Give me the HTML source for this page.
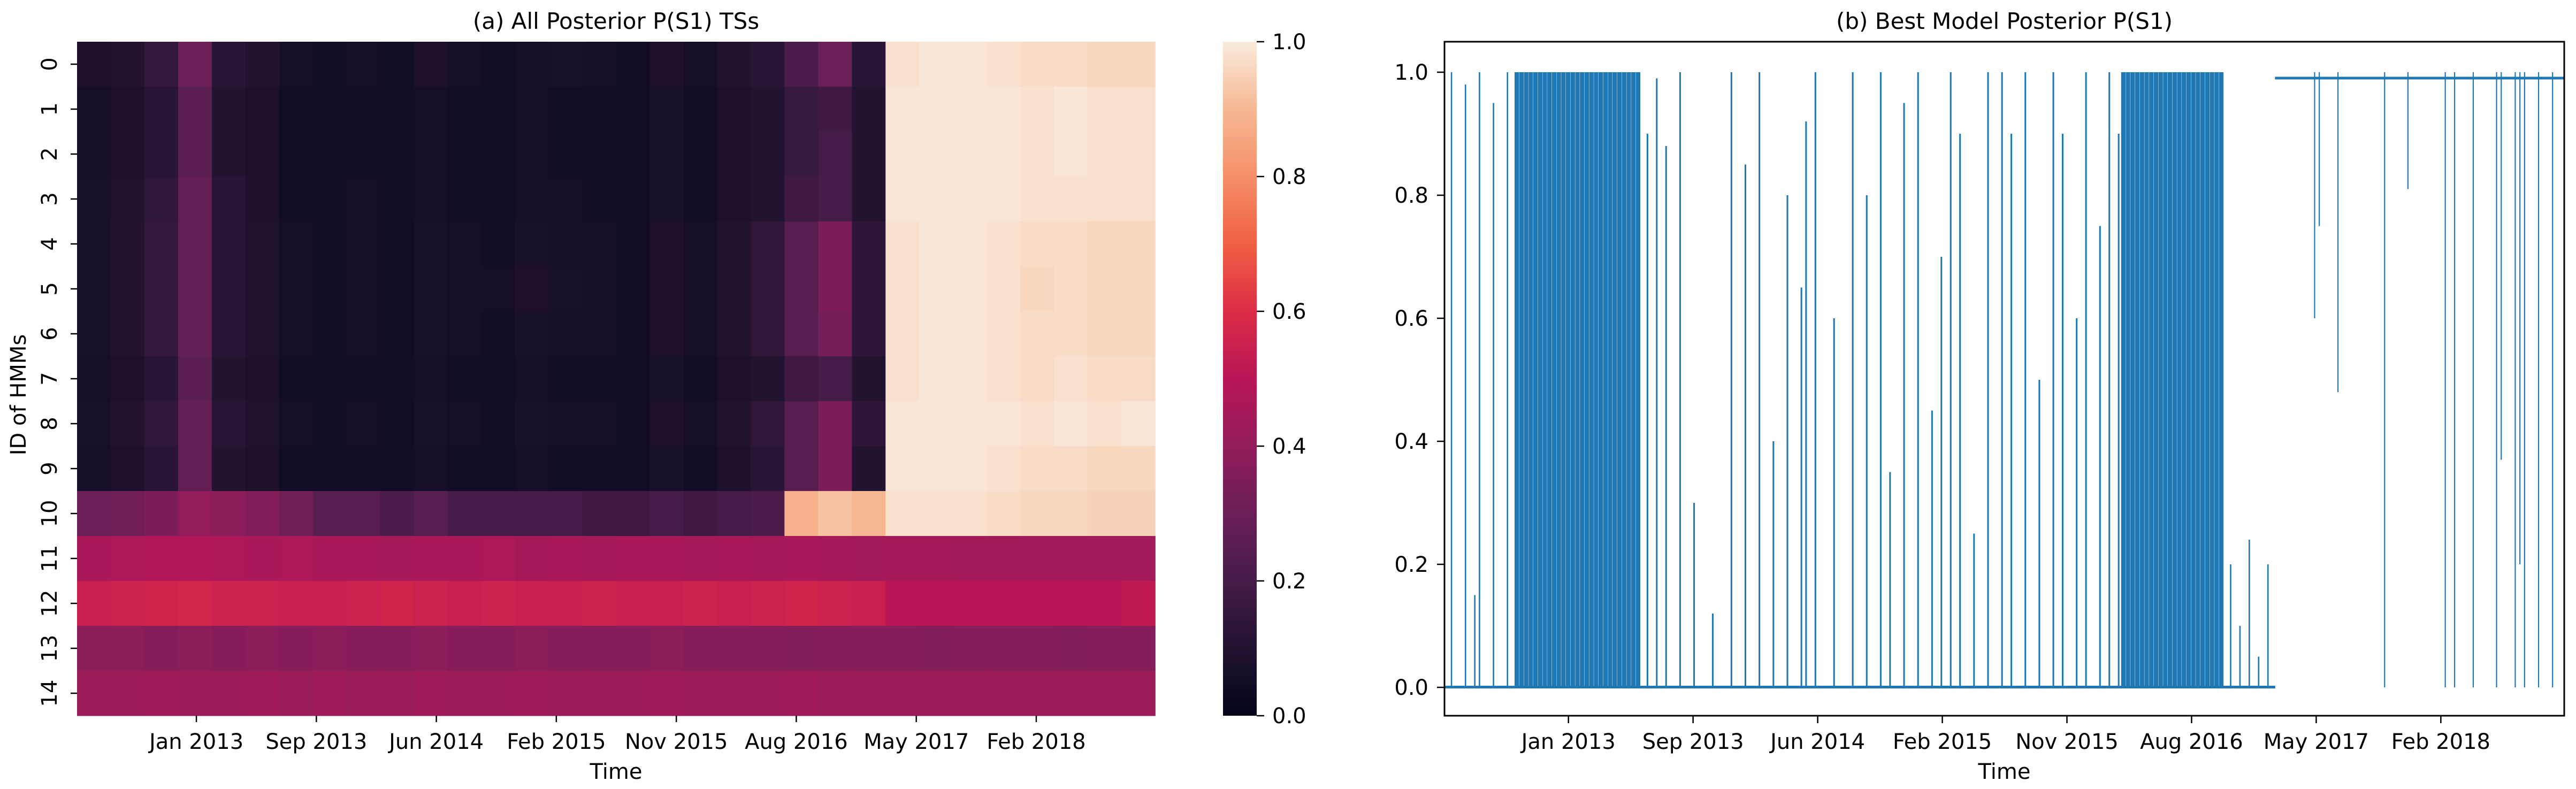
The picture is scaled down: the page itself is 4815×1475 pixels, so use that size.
<!DOCTYPE html>
<html><head><meta charset="utf-8"><style>
html,body{margin:0;padding:0;background:#fff}
svg{display:block}
text{font-family:"DejaVu Sans","Liberation Sans",sans-serif;fill:#000}
</style></head><body>
<svg id="fig" xmlns="http://www.w3.org/2000/svg" width="4815" height="1475" viewBox="0 0 4815 1475">
<defs>
<linearGradient id="rocket" x1="0" y1="1" x2="0" y2="0">
<stop offset="0" stop-color="#03051A"/><stop offset="0.1" stop-color="#221331"/><stop offset="0.2" stop-color="#451C47"/><stop offset="0.3" stop-color="#6A1F56"/><stop offset="0.4" stop-color="#921C5B"/><stop offset="0.5" stop-color="#B91657"/><stop offset="0.6" stop-color="#DD2C45"/><stop offset="0.7" stop-color="#F06043"/><stop offset="0.8" stop-color="#F58F69"/><stop offset="0.9" stop-color="#F6B893"/><stop offset="1" stop-color="#FAEBDD"/>
</linearGradient>
</defs>
<g id="left"></g>
<g id="right"></g>
</svg>
<script>
const tickLabels = ["Jan 2013","Sep 2013","Jun 2014","Feb 2015","Nov 2015","Aug 2016","May 2017","Feb 2018"];
const tickFractions = [0.1107,0.2220,0.3333,0.4446,0.5559,0.6672,0.7785,0.8898];
const rowIds = [0,1,2,3,4,5,6,7,8,9,10,11,12,13,14];
const cbarTicks = [0.0,0.2,0.4,0.6,0.8,1.0];
const lineYTicks = [0.0,0.2,0.4,0.6,0.8,1.0];
const heatRow0 = [0.08,0.1,0.15,0.3,0.12,0.1,0.06,0.05,0.06,0.05,0.08,0.06,0.05,0.06,0.07,0.06,0.05,0.08,0.06,0.1,0.12,0.22,0.3,0.12,0.98,0.99,0.99,0.98,0.97,0.97,0.96,0.96];
const heatRow1 = [0.06,0.08,0.12,0.26,0.1,0.08,0.05,0.05,0.05,0.05,0.06,0.05,0.05,0.06,0.05,0.05,0.05,0.07,0.05,0.08,0.1,0.16,0.18,0.1,0.99,0.99,0.99,0.99,0.98,0.99,0.98,0.98];
const heatRow2 = [0.06,0.08,0.12,0.26,0.1,0.08,0.05,0.05,0.05,0.05,0.06,0.05,0.05,0.06,0.05,0.05,0.05,0.07,0.05,0.08,0.1,0.16,0.2,0.1,0.99,0.99,0.99,0.99,0.98,0.99,0.98,0.98];
const heatRow3 = [0.07,0.09,0.14,0.28,0.12,0.08,0.05,0.05,0.06,0.05,0.06,0.05,0.05,0.06,0.06,0.05,0.05,0.07,0.05,0.08,0.1,0.18,0.2,0.1,0.99,0.99,0.99,0.99,0.98,0.98,0.98,0.98];
const heatRow4 = [0.07,0.1,0.15,0.28,0.12,0.09,0.06,0.05,0.06,0.05,0.07,0.06,0.05,0.07,0.06,0.06,0.05,0.08,0.06,0.1,0.14,0.25,0.35,0.13,0.98,0.99,0.99,0.98,0.97,0.97,0.96,0.96];
const heatRow5 = [0.07,0.1,0.15,0.28,0.12,0.09,0.06,0.05,0.06,0.05,0.07,0.06,0.06,0.08,0.07,0.06,0.05,0.08,0.06,0.1,0.14,0.25,0.35,0.13,0.98,0.99,0.99,0.98,0.96,0.97,0.96,0.96];
const heatRow6 = [0.07,0.1,0.15,0.28,0.12,0.09,0.06,0.05,0.06,0.05,0.07,0.06,0.05,0.07,0.06,0.06,0.05,0.08,0.06,0.1,0.14,0.25,0.33,0.13,0.98,0.99,0.99,0.98,0.97,0.97,0.96,0.96];
const heatRow7 = [0.06,0.08,0.12,0.26,0.1,0.08,0.05,0.05,0.05,0.05,0.06,0.05,0.05,0.06,0.05,0.05,0.05,0.07,0.05,0.08,0.1,0.18,0.2,0.1,0.98,0.99,0.99,0.98,0.97,0.98,0.97,0.97];
const heatRow8 = [0.07,0.1,0.14,0.28,0.12,0.09,0.06,0.05,0.06,0.05,0.07,0.06,0.05,0.07,0.06,0.06,0.05,0.08,0.06,0.1,0.14,0.25,0.35,0.13,0.99,0.99,0.99,0.99,0.98,0.99,0.98,0.99];
const heatRow9 = [0.06,0.08,0.12,0.28,0.1,0.08,0.05,0.05,0.05,0.05,0.06,0.05,0.05,0.06,0.05,0.05,0.05,0.07,0.05,0.08,0.12,0.25,0.35,0.1,0.99,0.99,0.99,0.98,0.97,0.97,0.96,0.96];
const heatRow10 = [0.3,0.32,0.35,0.4,0.38,0.36,0.32,0.25,0.25,0.22,0.25,0.2,0.2,0.2,0.2,0.18,0.18,0.2,0.18,0.2,0.22,0.88,0.92,0.9,0.98,0.98,0.98,0.97,0.96,0.96,0.95,0.95];
const heatRow11 = [0.46,0.47,0.48,0.48,0.47,0.46,0.47,0.46,0.46,0.45,0.46,0.46,0.47,0.45,0.46,0.45,0.46,0.46,0.45,0.46,0.45,0.46,0.45,0.44,0.45,0.45,0.44,0.44,0.44,0.44,0.44,0.44];
const heatRow12 = [0.54,0.55,0.56,0.57,0.55,0.55,0.54,0.54,0.55,0.56,0.55,0.54,0.55,0.54,0.54,0.55,0.54,0.54,0.55,0.54,0.55,0.56,0.55,0.54,0.5,0.5,0.5,0.5,0.5,0.5,0.5,0.52];
const heatRow13 = [0.38,0.38,0.37,0.38,0.37,0.38,0.37,0.38,0.37,0.37,0.38,0.37,0.37,0.38,0.37,0.37,0.37,0.38,0.37,0.37,0.37,0.36,0.37,0.37,0.37,0.36,0.37,0.37,0.37,0.36,0.37,0.37];
const heatRow14 = [0.42,0.42,0.43,0.42,0.42,0.43,0.42,0.43,0.42,0.42,0.43,0.42,0.42,0.43,0.42,0.42,0.42,0.43,0.42,0.42,0.42,0.43,0.42,0.42,0.42,0.42,0.42,0.42,0.42,0.42,0.42,0.42];
const heatRows = [heatRow0,heatRow1,heatRow2,heatRow3,heatRow4,heatRow5,heatRow6,heatRow7,heatRow8,heatRow9,heatRow10,heatRow11,heatRow12,heatRow13,heatRow14];

// Best model posterior, summarised per time bin (240 bins): peak, trough, baseline level, and spike density
const binHigh = [
0.02,1,0.02,0.02,0.98,0.02,0.15,1,0.02,0.02,0.95,0.02,0.02,1,0.02,
1,1,1,1,1,1,1,1,1,1,1,1,1,1,1,1,1,1,1,1,1,1,1,1,1,1,1,
0.02,0.9,0.02,0.99,0.02,0.88,0.02,0.02,1,0.02,0.02,0.3,0.02,0.02,0.02,0.12,0.02,0.02,0.02,1,0.02,0.02,0.85,0.02,0.02,1,0.02,0.02,0.4,0.02,0.02,0.8,0.02,0.02,0.65,0.92,0.02,1,0.02,0.02,0.02,0.6,0.02,0.02,0.02,1,0.02,0.02,0.8,0.02,0.02,1,0.02,0.35,0.02,0.02,0.95,0.02,0.02,1,0.02,0.02,0.45,0.02,0.7,0.02,1,0.02,0.9,0.02,0.02,0.25,0.02,0.02,1,0.02,0.02,1,0.02,0.9,0.02,0.02,1,0.02,0.02,0.5,0.02,0.02,1,0.02,0.9,0.02,0.02,0.6,0.02,1,0.02,0.02,0.75,0.02,1,0.02,0.9,
1,1,1,1,1,1,1,1,1,1,1,1,1,1,1,1,1,1,1,1,1,1,
0.02,0.2,0.02,0.1,0.02,0.24,0.02,0.05,0.02,0.2,0.02,
1,1,
1,1,1,1,1,1,1,1,1,1,1,1,1,1,1,1,1,1,1,1,1,1,1,1,1,1,1,1,1,1,1,1,1,1,1,1,1,1,1,1,1,1,1,1,1,1,1,1,1,1,1,1,1,1,1,1,1,1,1,1
];
const binLow = [
0,0,0,0,0,0,0,0,0,0,0,0,0,0,0,0,0,0,0,0,0,0,0,0,0,0,0,0,0,0,0,0,0,0,0,0,0,0,0,0,
0,0,0,0,0,0,0,0,0,0,0,0,0,0,0,0,0,0,0,0,0,0,0,0,0,0,0,0,0,0,0,0,0,0,0,0,0,0,0,0,
0,0,0,0,0,0,0,0,0,0,0,0,0,0,0,0,0,0,0,0,0,0,0,0,0,0,0,0,0,0,0,0,0,0,0,0,0,0,0,0,
0,0,0,0,0,0,0,0,0,0,0,0,0,0,0,0,0,0,0,0,0,0,0,0,0,0,0,0,0,0,0,0,0,0,0,0,0,0,0,0,
0,0,0,0,0,0,0,0,0,0,0,0,0,0,0,0,0,0,0.98,
0.98,0.98,0.98,0.98,0.98,0.98,0.98,0.6,0.75,0.98,0.98,0.98,0.48,0.98,0.98,0.98,0.98,0.98,0.98,0.98,0.98,0.98,0,0.98,0.98,0.98,0.98,0.81,0.98,0.98,0.98,0.98,0.98,0.98,0.98,0,0.98,0,0.98,0.98,0.98,0,0.98,0.98,0.98,0.98,0,0.37,0.98,0.98,0,0.2,0,0.98,0.98,0,0.98,0.98,0,0.98
];
const binBase = [
0,0,0,0,0,0,0,0,0,0,0,0,0,0,0,0,0,0,0,0,0,0,0,0,0,0,0,0,0,0,0,0,0,0,0,0,0,0,0,0,
0,0,0,0,0,0,0,0,0,0,0,0,0,0,0,0,0,0,0,0,0,0,0,0,0,0,0,0,0,0,0,0,0,0,0,0,0,0,0,0,
0,0,0,0,0,0,0,0,0,0,0,0,0,0,0,0,0,0,0,0,0,0,0,0,0,0,0,0,0,0,0,0,0,0,0,0,0,0,0,0,
0,0,0,0,0,0,0,0,0,0,0,0,0,0,0,0,0,0,0,0,0,0,0,0,0,0,0,0,0,0,0,0,0,0,0,0,0,0,0,0,
0,0,0,0,0,0,0,0,0,0,0,0,0,0,0,0,0,0,0.99,
0.99,0.99,0.99,0.99,0.99,0.99,0.99,0.99,0.99,0.99,0.99,0.99,0.99,0.99,0.99,0.99,0.99,0.99,0.99,0.99,0.99,0.99,0.99,0.99,0.99,0.99,0.99,0.99,0.99,0.99,0.99,0.99,0.99,0.99,0.99,0.99,0.99,0.99,0.99,0.99,0.99,0.99,0.99,0.99,0.99,0.99,0.99,0.99,0.99,0.99,0.99,0.99,0.99,0.99,0.99,0.99,0.99,0.99,0.99,0.99,0.99
];
const binDensity = [
0.3,0.3,0.3,0.3,0.3,0.3,0.3,0.3,0.3,0.3,0.3,0.3,0.3,0.3,0.3,
0.95,0.95,0.95,0.95,0.95,0.95,0.95,0.95,0.95,0.95,0.95,0.95,0.95,0.95,0.95,0.95,0.95,0.95,0.95,0.95,0.95,0.95,0.95,0.95,0.95,0.95,0.95,
0.35,0.35,0.35,0.35,0.35,0.35,0.35,0.35,0.35,0.35,0.35,0.35,0.35,0.35,0.35,0.35,0.35,0.35,0.35,0.35,0.35,0.35,0.35,0.35,0.35,0.35,0.35,0.35,0.35,0.35,0.35,0.35,0.35,0.35,0.35,0.35,0.35,0.35,0.35,0.35,0.35,0.35,0.35,0.35,0.35,0.35,0.35,0.35,0.35,0.35,0.35,0.35,0.35,0.35,0.35,0.35,0.35,0.35,0.35,0.35,0.35,0.35,0.35,0.35,0.35,0.35,0.35,0.35,0.35,0.35,0.35,0.35,0.35,0.35,0.35,0.35,0.35,0.35,0.35,0.35,0.35,0.35,0.35,0.35,0.35,0.35,0.35,0.35,0.35,0.35,0.35,0.35,0.35,0.35,0.35,0.35,0.35,0.35,0.35,0.35,0.35,0.35,0.35,
0.95,0.95,0.95,0.95,0.95,0.95,0.95,0.95,0.95,0.95,0.95,0.95,0.95,0.95,0.95,0.95,0.95,0.95,0.95,0.95,0.95,0.95,
0.3,0.3,0.3,0.3,0.3,0.3,0.3,0.3,0.3,0.3,0.3,
0.5,0.5,
0.25,0.25,0.25,0.25,0.25,0.25,0.25,0.25,0.25,0.25,0.25,0.25,0.25,0.25,0.25,0.25,0.25,0.25,0.25,0.25,0.25,0.25,0.25,0.25,0.25,0.25,0.25,0.25,0.25,0.25,0.25,0.25,0.25,0.25,0.25,0.25,0.25,0.25,0.25,0.25,0.25,0.25,0.25,0.25,0.25,0.25,0.25,0.25,0.25,0.25,0.25,0.25,0.25,0.25,0.25,0.25,0.25,0.25,0.25,0.25
];

const NS="http://www.w3.org/2000/svg";
function mk(tag, attrs, parent){const e=document.createElementNS(NS,tag);for(const k in attrs)e.setAttribute(k,attrs[k]);parent.appendChild(e);return e;}
const rk=[[3,5,26],[34,19,49],[69,28,71],[106,31,86],[146,28,91],[185,22,87],[221,44,69],[240,96,67],[245,143,105],[246,184,147],[250,235,221]];
function rocket(v){v=Math.max(0,Math.min(1,v));const p=v*10,i=Math.min(9,Math.floor(p)),t=p-i;const a=rk[i],b=rk[i+1];return `rgb(${Math.round(a[0]+(b[0]-a[0])*t)},${Math.round(a[1]+(b[1]-a[1])*t)},${Math.round(a[2]+(b[2]-a[2])*t)})`;}

// ---------- Left heatmap ----------
const L=document.getElementById('left');
const hx0=144,hx1=2159,hy0=78,hy1=1338;
const nRows=heatRows.length, rowH=(hy1-hy0)/nRows;
const hxScale=f=>hx0+f*(hx1-hx0);
const hyScale=r=>hy0+r*rowH;
heatRows.forEach((row,r)=>{
  const bw=(hx1-hx0)/row.length;
  row.forEach((v,c)=>{
    const e=mk('rect',{x:hx0+c*bw,y:hyScale(r),width:bw+0.8,height:rowH+0.5,fill:rocket(v)},L);
    
    
  });
});
rowIds.forEach((id,r)=>{
  const y=hyScale(r)+rowH/2;
  const t=mk('line',{x1:hx0-12,x2:hx0,y1:y,y2:y,stroke:'#000','stroke-width':2.5},L);
  
  
  const lb=mk('text',{x:0,y:0,'font-size':40,'text-anchor':'middle',transform:`translate(106,${y}) rotate(-90)`},L);
  lb.textContent=id;
  
  
});
tickLabels.forEach((s,k)=>{
  const x=hxScale(tickFractions[k]);
  const t=mk('line',{x1:x,x2:x,y1:hy1,y2:hy1+12,stroke:'#000','stroke-width':2.5},L);
  
  
  const lb=mk('text',{x:x,y:1400,'font-size':40,'text-anchor':'middle'},L);
  lb.textContent=s;
  
  
});
{
const t=mk('text',{x:(hx0+hx1)/2,y:54,'font-size':42,'text-anchor':'middle'},L);t.textContent='(a) All Posterior P(S1) TSs';


const xl=mk('text',{x:(hx0+hx1)/2,y:1456,'font-size':40,'text-anchor':'middle'},L);xl.textContent='Time';


const yl=mk('text',{x:0,y:0,'font-size':40,'text-anchor':'middle',transform:'translate(48,738) rotate(-90)'},L);yl.textContent='ID of HMMs';


const cx0=2286,cx1=2349;
const cb=mk('rect',{x:cx0,y:hy0,width:cx1-cx0,height:hy1-hy0,fill:'url(#rocket)'},L);


const cyScale=v=>hy1-v*(hy1-hy0);
cbarTicks.forEach(v=>{
  const y=cyScale(v);
  const tk=mk('line',{x1:cx1,x2:cx1+14,y1:y,y2:y,stroke:'#000','stroke-width':2.5},L);
  
  
  const lb=mk('text',{x:2378,y:y+14,'font-size':40},L);lb.textContent=v.toFixed(1);
  
  
});
}

// ---------- Right line chart ----------
const R=document.getElementById('right');
const rx0=2700,rx1=4793,ry0=78,ry1=1338;
const yVal0=1285,yVal1=135;
const rxScale=f=>rx0+f*(rx1-rx0);
const ryScale=v=>yVal0+v*(yVal1-yVal0);
const n=binHigh.length;
const bw=(rx1-rx0)/n;
binHigh.forEach((hi,i)=>{
  const x=rxScale(i/n);
  const yb=ryScale(binBase[i]);
  const tr=mk('rect',{x:x,y:yb-3,width:bw+0.5,height:5,fill:'#1f77b4'},R);
  
  
  if (hi - binLow[i] > 0.03) {
    const w=Math.max(2,bw*binDensity[i]);
    const yTop=ryScale(hi), yBot=ryScale(binLow[i]);
    const sp=mk('rect',{x:x+(bw-w)/2,y:yTop,width:w,height:yBot-yTop,fill:'#1f77b4'},R);
    
    
  }
});
const fr=mk('rect',{x:rx0,y:ry0,width:rx1-rx0,height:ry1-ry0,fill:'none',stroke:'#000','stroke-width':3},R);


lineYTicks.forEach(v=>{
  const y=ryScale(v);
  const tk=mk('line',{x1:rx0-14,x2:rx0,y1:y,y2:y,stroke:'#000','stroke-width':2.5},R);
  
  
  const lb=mk('text',{x:2670,y:y+14,'font-size':40,'text-anchor':'end'},R);lb.textContent=v.toFixed(1);
  
  
});
tickLabels.forEach((s,k)=>{
  const x=rxScale(tickFractions[k]);
  const tk=mk('line',{x1:x,x2:x,y1:ry1,y2:ry1+14,stroke:'#000','stroke-width':2.5},R);
  
  
  const lb=mk('text',{x:x,y:1400,'font-size':40,'text-anchor':'middle'},R);lb.textContent=s;
  
  
});
{
const t=mk('text',{x:(rx0+rx1)/2,y:54,'font-size':42,'text-anchor':'middle'},R);t.textContent='(b) Best Model Posterior P(S1)';


const xl=mk('text',{x:(rx0+rx1)/2,y:1456,'font-size':40,'text-anchor':'middle'},R);xl.textContent='Time';


}
</script>
</body></html>
